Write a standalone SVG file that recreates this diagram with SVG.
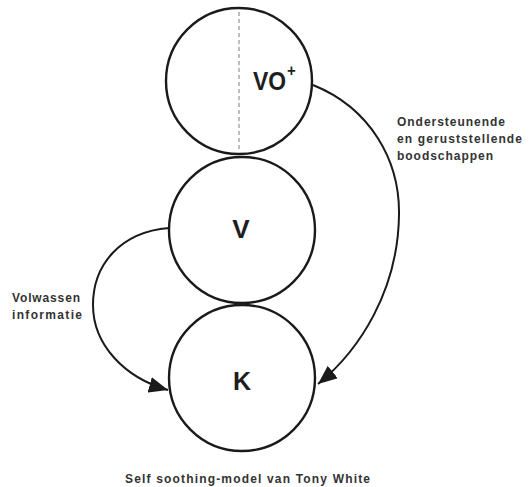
<svg xmlns="http://www.w3.org/2000/svg" width="532" height="487" viewBox="0 0 532 487">
<style>
.node{fill:#fff;stroke:#1a1a1a;stroke-width:2.4}
.lbl{font-family:"Liberation Sans",Arial,sans-serif;font-weight:bold;fill:#1e1e1e}
.small{font-family:"Liberation Sans",Arial,sans-serif;font-weight:bold;font-size:12px;fill:#333}
.conn{fill:none;stroke:#1a1a1a;stroke-width:2}
</style>
<defs>
<marker id="ah" markerUnits="userSpaceOnUse" markerWidth="20" markerHeight="16" refX="19" refY="8" orient="auto">
<path d="M0,0 L19,8 L0,16 Z" fill="#1a1a1a"/>
</marker>
</defs>
<rect width="532" height="487" fill="#fff"/>
<g id="node-VO">
<circle class="node" cx="239" cy="81" r="73"/>
<line x1="239" y1="12" x2="239" y2="152" stroke="#999" stroke-width="1.3" stroke-dasharray="4 3"/>
<text class="lbl" transform="translate(253,90) scale(0.88,1)" font-size="26">VO<tspan font-size="17" dy="-14" dx="1">+</tspan></text>
</g>
<g id="node-V">
<circle class="node" cx="242" cy="230" r="73"/>
<text class="lbl" x="241" y="238" font-size="26" text-anchor="middle">V</text>
</g>
<g id="node-K">
<circle class="node" cx="242" cy="378" r="73"/>
<text class="lbl" x="242" y="390" font-size="25" text-anchor="middle">K</text>
</g>
<g id="connectors">
<path class="conn" d="M313,85 C370,108 400,160 399,215 C398,290 360,350 318,384" marker-end="url(#ah)"/>
<path class="conn" d="M169,228 C120,232 93,265 93,305 C93,345 125,378 168,390" marker-end="url(#ah)"/>
</g>
<g id="labels">
<text class="small" x="397" y="126" textLength="108" lengthAdjust="spacing">Ondersteunende</text>
<text class="small" x="397" y="143" textLength="125" lengthAdjust="spacing">en geruststellende</text>
<text class="small" x="397" y="160" textLength="96" lengthAdjust="spacing">boodschappen</text>
<text class="small" x="12" y="302" textLength="68" lengthAdjust="spacing">Volwassen</text>
<text class="small" x="12" y="319" textLength="70" lengthAdjust="spacing">informatie</text>
<text class="small" x="125" y="483" textLength="245" lengthAdjust="spacing">Self soothing-model van Tony White</text>
</g>
</svg>
